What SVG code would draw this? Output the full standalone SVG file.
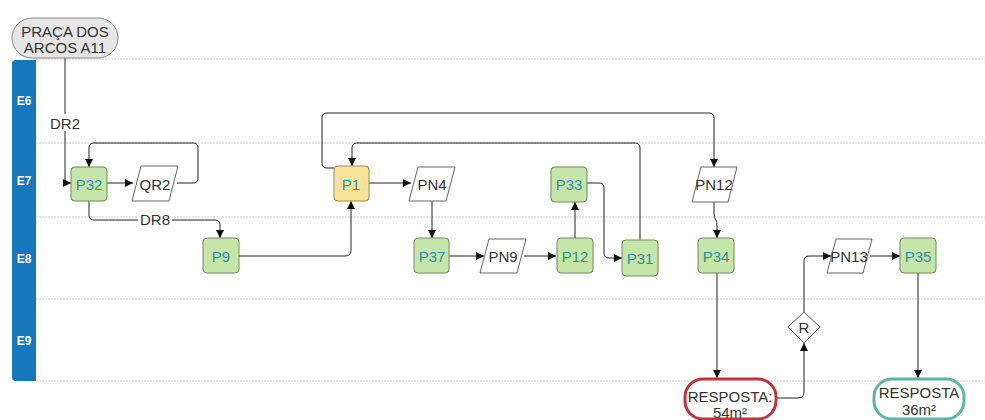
<svg xmlns="http://www.w3.org/2000/svg" width="985" height="420" viewBox="0 0 985 420">
<defs>
<marker id="arr" viewBox="0 0 10 10" refX="10" refY="5" markerWidth="8" markerHeight="8" markerUnits="userSpaceOnUse" orient="auto"><path d="M0,0 L10,5 L0,10 z" fill="#111"/></marker>
<style>
.lane{stroke:#cfcfcf;stroke-width:1;stroke-dasharray:2 1;fill:none}
.bar{fill:#1677bb}
.lt{font-family:"Liberation Sans",Arial,sans-serif;font-size:12px;font-weight:bold;fill:#fff;text-anchor:middle}
.t{font-family:"Liberation Sans",Arial,sans-serif;font-size:15px;text-anchor:middle;dominant-baseline:central}
.g rect{fill:#c6e5a8;stroke:#6f8d5c;stroke-width:1}
.g text{fill:#2e8ea3}
.y rect{fill:#fbe39c;stroke:#a08b4c;stroke-width:1}
.y text{fill:#2e8ea3}
.par polygon{fill:#fff;stroke:#666;stroke-width:1;stroke-linejoin:round}
.par text{fill:#333}
.c{fill:none;stroke:#222;stroke-width:1}
.lbl{font-family:"Liberation Sans",Arial,sans-serif;font-size:15px;fill:#333;text-anchor:middle;dominant-baseline:central}
</style>
</defs>
<rect width="985" height="420" fill="#fff"/>
<g id="lanes">
<line class="lane" x1="36" y1="59" x2="985" y2="59"/>
<line class="lane" x1="36" y1="143" x2="985" y2="143"/>
<line class="lane" x1="36" y1="217" x2="985" y2="217"/>
<line class="lane" x1="36" y1="299" x2="985" y2="299"/>
<line class="lane" x1="36" y1="381" x2="985" y2="381"/>
<path class="bar" d="M16,60 H36 V381 H16 Q12,381 12,377 V64 Q12,60 16,60 z"/>
<text class="lt" x="24" y="105">E6</text>
<text class="lt" x="24" y="185">E7</text>
<text class="lt" x="24" y="263">E8</text>
<text class="lt" x="24" y="345">E9</text>
</g>
<g id="connectors">
<path class="c" d="M65,58 V183 H71" marker-end="url(#arr)"/>
<rect x="48" y="114" width="34" height="17" fill="#fff"/>
<text class="lbl" x="65" y="123">DR2</text>
<path class="c" d="M107,183 H133" marker-end="url(#arr)"/>
<path class="c" d="M177,183 H193 Q198,183 198,178 V148 Q198,143 193,143 H94 Q89,143 89,148 V167" marker-end="url(#arr)"/>
<path class="c" d="M89,200 V215 Q89,220 94,220 H215 Q220,220 220,225 V238" marker-end="url(#arr)"/>
<rect x="138" y="211" width="34" height="17" fill="#fff"/>
<text class="lbl" x="155" y="219">DR8</text>
<path class="c" d="M239,256 H345 Q351,256 351,250 V201" marker-end="url(#arr)"/>
<path class="c" d="M369,183 H411" marker-end="url(#arr)"/>
<path class="c" d="M432,201 V238" marker-end="url(#arr)"/>
<path class="c" d="M449,256 H484" marker-end="url(#arr)"/>
<path class="c" d="M524,256 H556" marker-end="url(#arr)"/>
<path class="c" d="M575,238 V202" marker-end="url(#arr)"/>
<path class="c" d="M587,183 H599 Q604,183 604,188 V253 Q604,258 609,258 H622" marker-end="url(#arr)"/>
<path class="c" d="M640,240 V148 Q640,143 635,143 H357 Q352,143 352,148 V166" marker-end="url(#arr)"/>
<path class="c" d="M334,168 H327 Q322,168 322,163 V118 Q322,113 327,113 H709 Q714,113 714,118 V167" marker-end="url(#arr)"/>
<path class="c" d="M714,202 V214 Q714,218 716,220 Q717,222 717,226 V238" marker-end="url(#arr)"/>
<path class="c" d="M717,273 V378" marker-end="url(#arr)"/>
<path class="c" d="M777,398 H798 Q804,398 804,392 V343" marker-end="url(#arr)"/>
<path class="c" d="M804,312 V261 Q804,256 809,256 H831" marker-end="url(#arr)"/>
<path class="c" d="M870,256 H900" marker-end="url(#arr)"/>
<path class="c" d="M918,273 V378" marker-end="url(#arr)"/>
</g>
<g id="start">
<rect x="12" y="18" width="106" height="40" rx="20" fill="#e6e6e6" stroke="#888" stroke-width="1"/>
<text class="t" x="65" y="31" fill="#333" font-size="14.5">PRAÇA DOS</text>
<text class="t" x="65" y="47" fill="#333" font-size="14.5">ARCOS A11</text>
</g>
<g id="P32" class="g"><rect x="71" y="167" width="36" height="34" rx="4"/><text class="t" x="89" y="184">P32</text></g>
<g id="QR2" class="par"><polygon points="141,166 178,166 169,201 132,201"/><text class="t" x="155" y="184">QR2</text></g>
<g id="P9" class="g"><rect x="203" y="238" width="36" height="35" rx="4"/><text class="t" x="221" y="256">P9</text></g>
<g id="P1" class="y"><rect x="334" y="166" width="35" height="35" rx="4"/><text class="t" x="351" y="184">P1</text></g>
<g id="PN4" class="par"><polygon points="418,167 455,167 446,201 409,201"/><text class="t" x="432" y="184">PN4</text></g>
<g id="P37" class="g"><rect x="414" y="238" width="35" height="35" rx="4"/><text class="t" x="432" y="256">P37</text></g>
<g id="PN9" class="par"><polygon points="489,239 526,239 517,273 480,273"/><text class="t" x="503" y="256">PN9</text></g>
<g id="P12" class="g"><rect x="557" y="238" width="36" height="35" rx="4"/><text class="t" x="575" y="256">P12</text></g>
<g id="P33" class="g"><rect x="551" y="167" width="36" height="35" rx="4"/><text class="t" x="569" y="184">P33</text></g>
<g id="P31" class="g"><rect x="622" y="240" width="36" height="36" rx="4"/><text class="t" x="640" y="258">P31</text></g>
<g id="PN12" class="par"><polygon points="701,167 737,167 728,202 692,202"/><text class="t" x="714" y="184">PN12</text></g>
<g id="P34" class="g"><rect x="698" y="238" width="36" height="35" rx="4"/><text class="t" x="716" y="256">P34</text></g>
<g id="R"><polygon points="804,312 820,327 804,343 788,327" fill="#fff" stroke="#555" stroke-width="1" stroke-linejoin="round"/><text class="t" x="804" y="327" fill="#333" font-size="13">R</text></g>
<g id="PN13" class="par"><polygon points="836,239 872,239 863,273 827,273"/><text class="t" x="849" y="256">PN13</text></g>
<g id="P35" class="g"><rect x="900" y="238" width="36" height="35" rx="4"/><text class="t" x="918" y="256">P35</text></g>
<g id="R54"><rect x="685" y="379" width="91" height="40" rx="18" fill="#fff" stroke="#c0323e" stroke-width="3"/><text class="t" x="730" y="396" fill="#333">RESPOSTA:</text><text class="t" x="730" y="412" fill="#333">54m²</text></g>
<g id="R36"><rect x="874" y="379" width="90" height="40" rx="18" fill="#fff" stroke="#5bb5a2" stroke-width="3"/><text class="t" x="919" y="392" fill="#333">RESPOSTA</text><text class="t" x="919" y="409" fill="#333">36m²</text></g>
</svg>
